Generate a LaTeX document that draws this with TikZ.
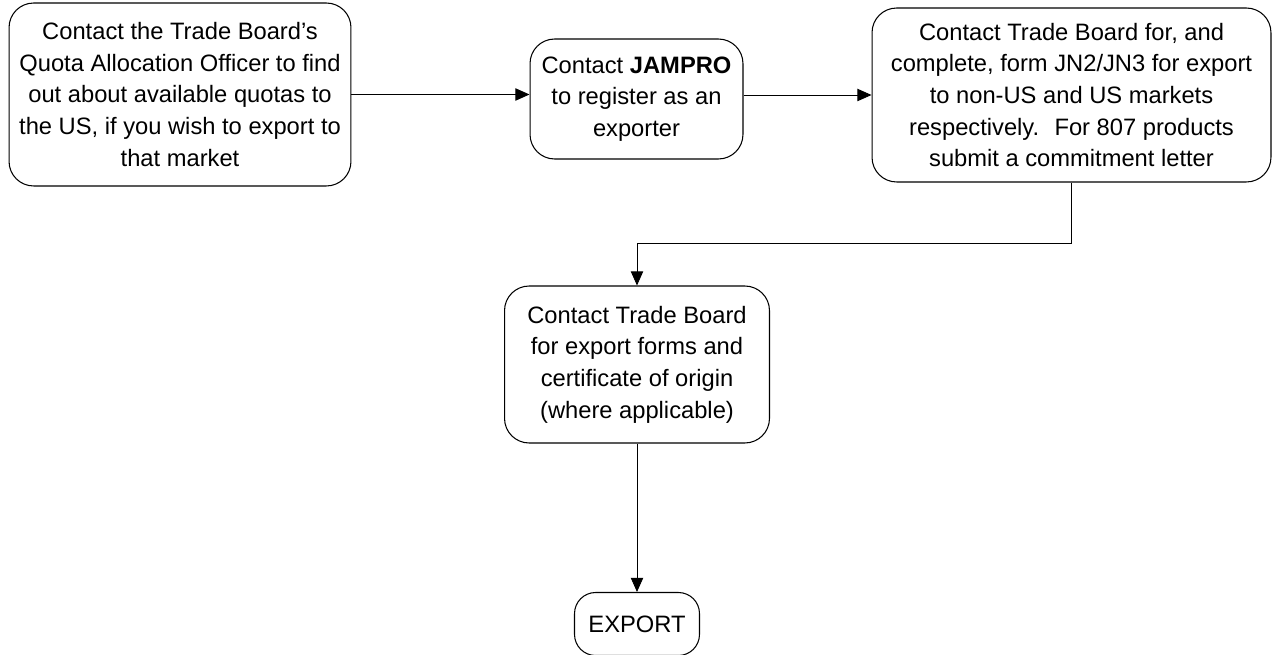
\documentclass[tikz,border=0pt]{standalone}
\usepackage{fontspec}
\setmainfont{Liberation Sans}
\usetikzlibrary{arrows.meta}

\begin{document}
\begin{tikzpicture}[x=0.02cm, y=-0.02cm,
    stepbox/.style={draw, line width=0.6pt, rounded corners=14pt, align=center,
        inner sep=0pt, font=\fontsize{13.5}{18}\selectfont},
    flow/.style={line width=0.5pt, -{Triangle[length=8pt, width=7pt]}}]
        \useasboundingbox (0, 0) rectangle (1274, 655);

        % steps
        \node[stepbox, minimum width=6.84cm, minimum height=3.66cm] (quota) at (180, 94.5)
            {Contact the Trade Board’s\\Quota Allocation Officer to find\\out about available quotas to\\the US, if you wish to export to\\that market};
        \node[stepbox, minimum width=4.26cm, minimum height=2.4cm] (jampro) at (636.5, 99)
            {Contact \textbf{JAMPRO}\\to register as an\\exporter};
        \node[stepbox, minimum width=7.98cm, minimum height=3.48cm] (form) at (1071.5, 95)
            {Contact Trade Board for, and\\complete, form JN2/JN3 for export\\to non-US and US markets\\respectively.~ For 807 products\\submit a commitment letter};
        \node[stepbox, minimum width=5.3cm, minimum height=3.14cm] (cert) at (637, 364.5)
            {Contact Trade Board\\for export forms and\\certificate of origin\\(where applicable)};
        \node[stepbox, rounded corners=12pt, minimum width=2.5cm, minimum height=1.26cm] (export) at (637, 624)
            {EXPORT};
        \coordinate (bend) at (1071.5, 243);

        % connectors
        \draw[flow] (quota) -- (quota -| jampro.west);
        \draw[flow] (form.west -| jampro.east) -- (form.west);
        \draw[flow] (form.south) -- (bend) -| (cert.north);
        \draw[flow] (cert.south) -- (export.north);
    \end{tikzpicture}
\end{document}
